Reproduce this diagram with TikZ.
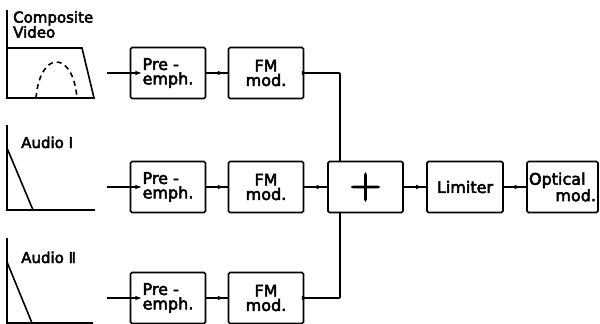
\documentclass[tikz,border=0pt]{standalone}
\usepackage{fontspec}
\setmainfont{DejaVu Sans}[RawFeature={embolden=3.2}]
\newfontfamily\plusfont{Latin Modern Roman}[RawFeature={embolden=2.5}]
\usetikzlibrary{arrows.meta,calc}
\tikzset{
  blk/.style={draw, line width=1.6pt, rounded corners=1.5pt, minimum width=75pt,
    minimum height=51pt, align=center, inner sep=1pt, font=\fontsize{16}{14.5}\selectfont},
  lbl/.style={inner sep=0pt, align=left, font=\fontsize{15}{15}\selectfont},
  wire/.style={line width=1.3pt},
  vwire/.style={line width=1.1pt},
  tip/.style={line width=1.3pt, -{Latex[length=7pt,width=4.5pt]}},
  graphline/.style={line width=1.6pt}
}
\begin{document}
\begin{tikzpicture}[x=1pt,y=-1pt]
\useasboundingbox (0,0) rectangle (600,324);
% graphs
\draw[graphline] (7,10) -- (7,98) -- (95,98);
\draw[graphline] (7,48) -- (82,48) -- (94,98);
\draw[graphline, dash pattern=on 5pt off 4pt] (36,98) .. controls (40,50) and (73,50) .. (77,98);
\draw[graphline] (7,125) -- (7,210) -- (95,210);
\draw[graphline] (7,148) -- (33,210);
\draw[graphline] (7,238) -- (7,323) -- (93,323);
\draw[graphline] (7,262) -- (32,323);
% labels
\node[lbl, anchor=north west] (lcv) at (13,11) {Composite\\Video};
\node[lbl, anchor=base west] (la1) at (21,148) {Audio Ⅰ};
\node[lbl, anchor=base west] (la2) at (21,263) {Audio Ⅱ};
% blocks
\node[blk, align=left] (pe1) at (168,73) {Pre -\\emph.};
\node[blk] (fm1) at (266,73) {FM\\mod.};
\node[blk, align=left] (pe2) at (168,187) {Pre -\\emph.};
\node[blk] (fm2) at (266,187) {FM\\mod.};
\node[blk, minimum width=75pt] (sum) at (365.5,187) {\plusfont\fontsize{44}{44}\selectfont +};
\node[blk, minimum width=76pt] (lim) at (465,187) {Limiter};
\node[blk, minimum width=71pt, text width=67pt, align=left, inner xsep=1.5pt] (opt) at (562.5,187) {Optical\\\makebox[67pt][r]{mod.}};
\node[blk, align=left] (pe3) at (168,298) {Pre -\\emph.};
\node[blk] (fm3) at (266,298) {FM\\mod.};
% coordinates
\coordinate (in1) at (107,73);
\coordinate (in2) at (107,187);
\coordinate (in3) at (107,298);
\coordinate (j1) at (340,73);
\coordinate (j3) at (340,298);
% connectors
\foreach \a/\b in {in1/pe1, in2/pe2, in3/pe3, pe1/fm1, pe2/fm2, pe3/fm3, fm1/j1, fm3/j3, fm2/sum, sum/lim, lim/opt}{
  \draw[wire] (\a) -- (\b);
  \draw[tip] (\a) -- ($(\a)!0.58!(\b)$);
}
\draw[vwire] (j1) -- (j1 |- sum.north);
\draw[vwire] (j3) -- (j3 |- sum.south);
\end{tikzpicture}
\end{document}
